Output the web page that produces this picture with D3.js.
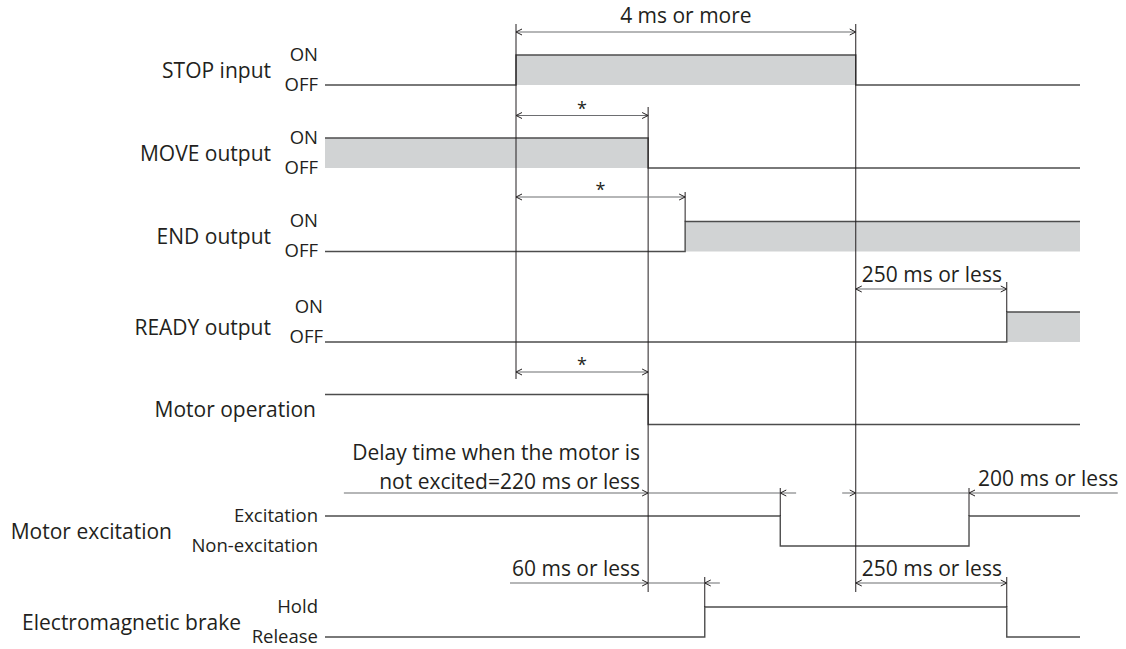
<!DOCTYPE html>
<html>
<head>
<meta charset="utf-8">
<script src="https://cdn.jsdelivr.net/npm/d3@7"></script>
<style>
  html, body { margin: 0; padding: 0; background: #fff; }
  svg { display: block; }
  text { font-family: "Open Sans", "Noto Sans", sans-serif; fill: #231f20; }
</style>
</head>
<body>
<div id="chart"></div>
<script>
// ---------------- DATA ----------------
const signalNames = ["STOP input", "MOVE output", "END output", "READY output",
                     "Motor operation", "Motor excitation", "Electromagnetic brake"];
const highStateLabels = ["ON", "ON", "ON", "ON", "", "Excitation", "Hold"];
const lowStateLabels  = ["OFF", "OFF", "OFF", "OFF", "", "Non-excitation", "Release"];

// level changes: [time, level]  (time in arbitrary units 0..100)
const stopLevels       = [[0, 0], [25.3, 1], [70.3, 0]];
const moveLevels       = [[0, 1], [42.8, 0]];
const endLevels        = [[0, 0], [47.7, 1]];
const readyLevels      = [[0, 0], [90.3, 1]];
const motorOpLevels    = [[0, 1], [42.8, 0]];
const excitationLevels = [[0, 1], [60.3, 0], [85.3, 1]];
const brakeLevels      = [[0, 0], [50.3, 1], [90.3, 0]];
const shadedSignals    = [true, true, true, true, false, false, false];

// timing annotations
const dimLabels = ["4 ms or more", "*", "*", "250 ms or less", "*",
                   "Delay time when the motor is|not excited=220 ms or less",
                   "200 ms or less", "60 ms or less", "250 ms or less"];
const dimSpans  = [[25.3, 70.3], [25.3, 42.8], [25.3, 47.7], [70.3, 90.3], [25.3, 42.8],
                   [42.8, 60.3], [70.3, 85.3], [42.8, 50.3], [70.3, 90.3]];
const dimKinds  = ["in", "in", "in", "in", "in", "out", "out", "out", "in"];
// outer extents (time units) of the "out"-style dimension lines
const dimExtents = [null, null, null, null, null, [2.5, 62.4], [68.5, 105], [24.5, 52.3], null];

// ---------------- LAYOUT ----------------
const W = 1126, H = 649;
const allLevels = [stopLevels, moveLevels, endLevels, readyLevels, motorOpLevels, excitationLevels, brakeLevels];
const rowLowY  = [85, 168, 251.5, 342, 424.5, 546, 637];
const rowH = 30;
const nameRightX = [271, 271, 271, 271, 316, 172, 241];
const stateDx = [0, 0, 0, 5, 0, 0, 0];
const stateDy = [0, 0, 0, -5, 0, 0, 0];
const dimY = [32, 115.5, 197, 289, 372, 493, 493, 583, 583];
const dimTextAnchor = ["middle", "middle", "middle", "start", "middle", "end", "start", "end", "start"];

const x = d3.scaleLinear().domain([0, 100]).range([325, 1080]);

const svg = d3.select("#chart").append("svg").attr("width", W).attr("height", H);

const sigColor = "#4d4d4d";
const dimColor = "#6d6e71";
const refColor = "#231f20";
const fillColor = "#d1d3d4";

// ---- shaded ON regions and signal lines ----
allLevels.forEach((lv, i) => {
  const lo = rowLowY[i], hi = lo - rowH;
  const pts = lv.concat([[100, lv[lv.length - 1][1]]]);
  if (shadedSignals[i]) {
    const area = d3.area().curve(d3.curveStepAfter)
      .x(d => x(d[0])).y0(lo).y1(d => d[1] ? hi : lo);
    svg.append("path").attr("d", area(pts)).attr("fill", fillColor);
  }
  const line = d3.line().curve(d3.curveStepAfter)
    .x(d => x(d[0])).y(d => d[1] ? hi : lo);
  svg.append("path").attr("d", line(pts)).attr("fill", "none")
    .attr("stroke", sigColor).attr("stroke-width", 1.4);
});

// ---- reference / extension lines ----
const refLines = [
  [25.3, 24, 379], [42.8, 107, 592], [70.3, 24, 592],
  [47.7, 192, rowLowY[2] - rowH], [90.3, 282, rowLowY[3] - rowH],
  [60.3, 488, rowLowY[5] - rowH], [85.3, 488, rowLowY[5] - rowH],
  [50.3, 577, rowLowY[6] - rowH], [90.3, 577, rowLowY[6] - rowH]
];
svg.selectAll("line.ref").data(refLines).join("line").attr("class", "ref")
  .attr("x1", d => x(d[0])).attr("x2", d => x(d[0]))
  .attr("y1", d => d[1]).attr("y2", d => d[2])
  .attr("stroke", refColor).attr("stroke-width", 1);

// ---- dimension arrows ----
function chevron(g, tipX, y, dir) { // dir: -1 pointing left, +1 pointing right
  const L = 6, h = 3;
  g.append("path")
    .attr("d", `M${tipX - dir * L},${y - h}L${tipX},${y}L${tipX - dir * L},${y + h}`)
    .attr("fill", "none").attr("stroke", refColor).attr("stroke-width", 1);
}
dimSpans.forEach((s, i) => {
  const g = svg.append("g");
  const x1 = x(s[0]), x2 = x(s[1]), y = dimY[i];
  if (dimKinds[i] === "in") {
    g.append("line").attr("x1", x1).attr("x2", x2).attr("y1", y).attr("y2", y)
      .attr("stroke", dimColor).attr("stroke-width", 1.2);
    chevron(g, x1, y, -1);
    chevron(g, x2, y, 1);
  } else {
    const e = dimExtents[i];
    g.append("line").attr("x1", x(e[0])).attr("x2", x(e[1])).attr("y1", y).attr("y2", y)
      .attr("stroke", dimColor).attr("stroke-width", 1.2);
    chevron(g, x1, y, 1);
    chevron(g, x2, y, -1);
  }
  // label
  const lines = dimLabels[i].split("|");
  const anchor = dimTextAnchor[i];
  let tx = anchor === "middle" ? (x1 + x2) / 2 : anchor === "start" ? x1 + 6 : x1 - 8;
  if (i === 6) tx = x2 + 9;
  const isStar = dimLabels[i] === "*";
  if (isStar) {
    g.append("text").attr("text-anchor", anchor).attr("font-size", 18)
      .attr("x", tx).attr("y", y - 1).text("*");
  } else {
    const lineGap = 28.8;
    lines.forEach((ln, k) => {
      const extra = i === 0 ? -2 : (lines.length > 1 ? 3 : 0);
      g.append("text").attr("text-anchor", anchor).attr("font-size", 21)
        .attr("x", tx)
        .attr("y", y - 7 - (lines.length - 1 - k) * lineGap + extra)
        .text(ln);
    });
  }
});

// ---- row labels ----
signalNames.forEach((name, i) => {
  const lo = rowLowY[i];
  svg.append("text").attr("x", nameRightX[i]).attr("y", lo - 7.5)
    .attr("text-anchor", "end").attr("font-size", 21).text(name);
  if (highStateLabels[i]) {
    svg.append("text").attr("x", 318 + stateDx[i]).attr("y", lo - rowH + 5.5 + stateDy[i])
      .attr("text-anchor", "end").attr("font-size", 18.5).text(highStateLabels[i]);
  }
  if (lowStateLabels[i]) {
    svg.append("text").attr("x", 318 + stateDx[i]).attr("y", lo + 5.5 + stateDy[i])
      .attr("text-anchor", "end").attr("font-size", 18.5).text(lowStateLabels[i]);
  }
});
</script>
</body>
</html>
